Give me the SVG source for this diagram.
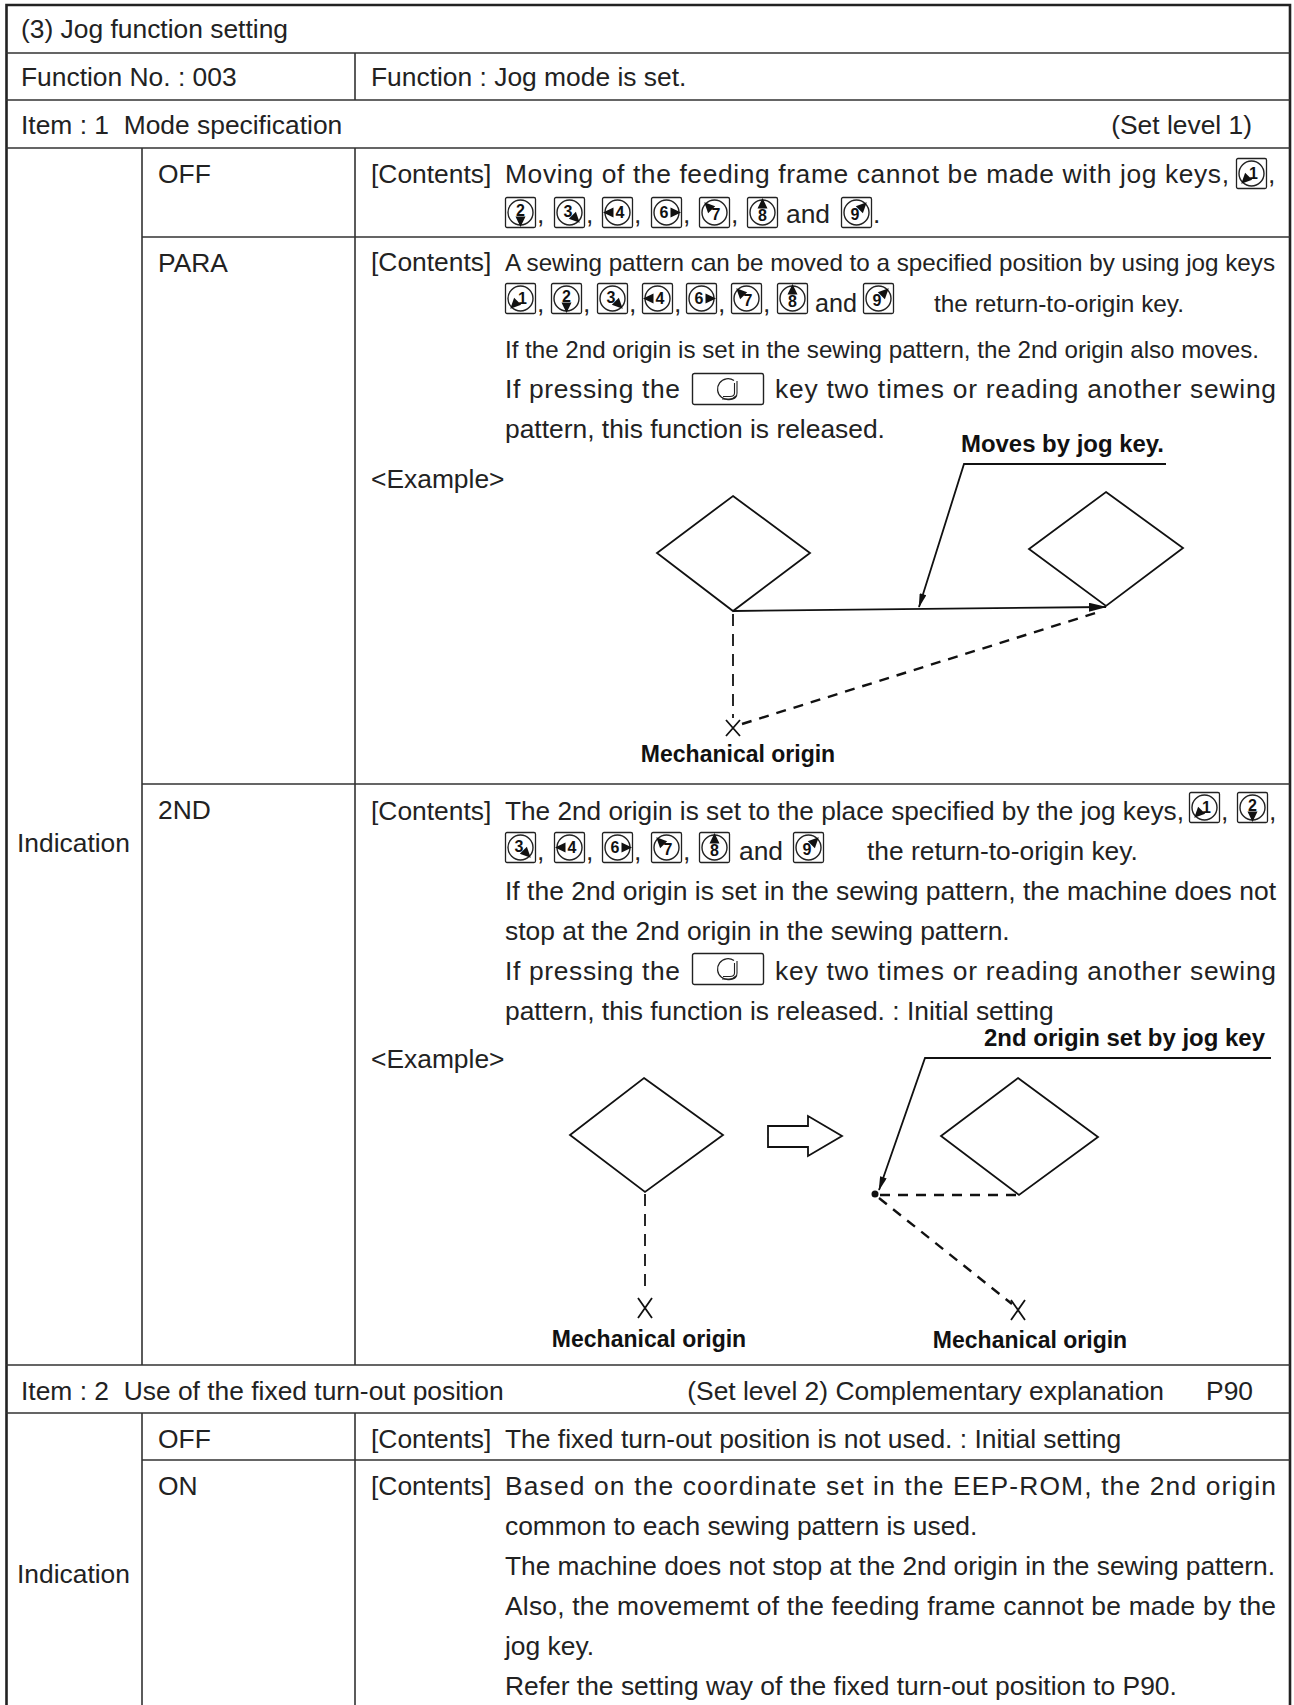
<svg xmlns="http://www.w3.org/2000/svg" xmlns:xlink="http://www.w3.org/1999/xlink" width="1294" height="1705" viewBox="0 0 1294 1705">
<style>
.t{font-family:"Liberation Sans",Arial,sans-serif;font-size:26.4px;fill:#222}
.c{font-family:"Liberation Sans",Arial,sans-serif;font-size:24px;fill:#222}
.b{font-family:"Liberation Sans",Arial,sans-serif;font-size:23px;font-weight:bold;fill:#111}
.kd{font-family:"Liberation Sans",Arial,sans-serif;font-size:16px;font-weight:bold;fill:#111;text-anchor:middle}
.ln{stroke:#333;stroke-width:1.6;fill:none}
.ob{stroke:#222;stroke-width:2.6;fill:none}
.dg{stroke:#111;stroke-width:1.8;fill:none}
.da{stroke:#111;stroke-width:1.8;fill:none;stroke-dasharray:12 8}
.dd{stroke:#111;stroke-width:2.4;fill:none;stroke-dasharray:10 8}
.kb{stroke:#222;stroke-width:1.3;fill:#fff}
</style>
<defs>
<g id="kb"><rect class="kb" x="0.5" y="0.5" width="30" height="30" rx="1.5"/><circle cx="15.5" cy="15.5" r="12.5" fill="none" stroke="#222" stroke-width="1.4"/></g>
<path id="ka" d="M19.5,10.5 L30,15.5 L19.5,20.5 Z" fill="#111"/>
<g id="rk"><rect x="0.5" y="0.5" width="71" height="31" rx="2" fill="#fff" stroke="#222" stroke-width="1.4"/><path d="M42,7.5 A10.5,10.5 0 1 0 44,23" fill="none" stroke="#222" stroke-width="1.3"/><path d="M45,8 L45,20 Q45,26 39,26 L30,26 M42.5,10 L42.5,20 Q42.5,23.5 38,23.5 L31,23.5" fill="none" stroke="#222" stroke-width="1.1"/></g>
<marker id="arr" viewBox="0 0 20 10" refX="19" refY="5" markerWidth="18" markerHeight="9" markerUnits="userSpaceOnUse" orient="auto"><path d="M0,0 L20,5 L0,10 Z" fill="#111"/></marker>
<marker id="arrs" viewBox="0 0 20 10" refX="19" refY="5" markerWidth="16" markerHeight="7" markerUnits="userSpaceOnUse" orient="auto"><path d="M0,0 L20,5 L0,10 Z" fill="#111"/></marker>
</defs>
<rect width="1294" height="1705" fill="#fff"/>

<g id="table">
<path class="ob" d="M6.5,1705 V5 H1290 V1705"/>
<path class="ln" d="M6,53 H1290 M6,100 H1290 M6,148 H1290 M6,1365 H1290 M6,1413 H1290 M142,237 H1290 M142,784 H1290 M142,1460 H1290"/>
<path class="ln" d="M355,53 V100 M142,148 V1365 M355,148 V1365 M142,1413 V1705 M355,1413 V1705"/>
</g>

<g id="header">
<text class="t" x="21" y="38">(3) Jog function setting</text>
<text class="t" x="21" y="86">Function No. : 003</text>
<text class="t" x="371" y="86">Function : Jog mode is set.</text>
<text class="t" x="21" y="134" xml:space="preserve">Item : 1  Mode specification</text>
<text class="t" x="1252" y="134" text-anchor="end">(Set level 1)</text>
<text class="t" x="17" y="852">Indication</text>
</g>

<g id="item1-off">
<text class="t" x="158" y="183">OFF</text>
<text class="t" x="371" y="183">[Contents]</text>
<text class="t" x="505" y="183" textLength="724" lengthAdjust="spacing">Moving of the feeding frame cannot be made with jog keys,</text>
<g transform="translate(1236,158)"><use href="#kb"/><use href="#ka" transform="rotate(135 15.5 15.5)"/><text class="kd" x="17.5" y="20.5">1</text></g>
<text class="t" x="1268" y="183">,</text>
<g transform="translate(505,197)"><use href="#kb"/><use href="#ka" transform="rotate(90 15.5 15.5)"/><text class="kd" x="15.5" y="18.5">2</text></g>
<text class="t" x="537" y="223">,</text>
<g transform="translate(554,197)"><use href="#kb"/><use href="#ka" transform="rotate(45 15.5 15.5)"/><text class="kd" x="14" y="19.5">3</text></g>
<text class="t" x="586" y="223">,</text>
<g transform="translate(602,197)"><use href="#kb"/><use href="#ka" transform="rotate(180 15.5 15.5)"/><text class="kd" x="18" y="21">4</text></g>
<text class="t" x="634" y="223">,</text>
<g transform="translate(651,197)"><use href="#kb"/><use href="#ka"/><text class="kd" x="13" y="21">6</text></g>
<text class="t" x="683" y="223">,</text>
<g transform="translate(699,197)"><use href="#kb"/><use href="#ka" transform="rotate(225 15.5 15.5)"/><text class="kd" x="17" y="22.5">7</text></g>
<text class="t" x="731" y="223">,</text>
<g transform="translate(747,197)"><use href="#kb"/><use href="#ka" transform="rotate(270 15.5 15.5)"/><text class="kd" x="15.5" y="24">8</text></g>
<text class="t" x="786" y="223">and</text>
<g transform="translate(841,197)"><use href="#kb"/><use href="#ka" transform="rotate(315 15.5 15.5)"/><text class="kd" x="14" y="22.5">9</text></g>
<text class="t" x="873" y="223">.</text>
</g>

<g id="item1-para">
<text class="t" x="158" y="272">PARA</text>
<text class="t" x="371" y="271">[Contents]</text>
<text class="c" x="505" y="271" textLength="770" lengthAdjust="spacingAndGlyphs">A sewing pattern can be moved to a specified position by using jog keys</text>
<g transform="translate(505,283)"><use href="#kb"/><use href="#ka" transform="rotate(135 15.5 15.5)"/><text class="kd" x="17.5" y="20.5">1</text></g>
<text class="t" x="537" y="312">,</text>
<g transform="translate(551,283)"><use href="#kb"/><use href="#ka" transform="rotate(90 15.5 15.5)"/><text class="kd" x="15.5" y="18.5">2</text></g>
<text class="t" x="583" y="312">,</text>
<g transform="translate(597,283)"><use href="#kb"/><use href="#ka" transform="rotate(45 15.5 15.5)"/><text class="kd" x="14" y="19.5">3</text></g>
<text class="t" x="629" y="312">,</text>
<g transform="translate(642,283)"><use href="#kb"/><use href="#ka" transform="rotate(180 15.5 15.5)"/><text class="kd" x="18" y="21">4</text></g>
<text class="t" x="674" y="312">,</text>
<g transform="translate(686,283)"><use href="#kb"/><use href="#ka"/><text class="kd" x="13" y="21">6</text></g>
<text class="t" x="718" y="312">,</text>
<g transform="translate(731,283)"><use href="#kb"/><use href="#ka" transform="rotate(225 15.5 15.5)"/><text class="kd" x="17" y="22.5">7</text></g>
<text class="t" x="763" y="312">,</text>
<g transform="translate(777,283)"><use href="#kb"/><use href="#ka" transform="rotate(270 15.5 15.5)"/><text class="kd" x="15.5" y="24">8</text></g>
<text class="t" x="815" y="312" textLength="42" lengthAdjust="spacingAndGlyphs">and</text>
<g transform="translate(863,283)"><use href="#kb"/><use href="#ka" transform="rotate(315 15.5 15.5)"/><text class="kd" x="14" y="22.5">9</text></g>
<text class="c" x="934" y="312" textLength="250" lengthAdjust="spacingAndGlyphs">the return-to-origin key.</text>
<text class="c" x="505" y="358" textLength="754" lengthAdjust="spacingAndGlyphs">If the 2nd origin is set in the sewing pattern, the 2nd origin also moves.</text>
<text class="t" x="505" y="398" textLength="175" lengthAdjust="spacing">If pressing the</text>
<use href="#rk" x="692" y="373"/>
<text class="t" x="775" y="398" textLength="501" lengthAdjust="spacing">key two times or reading another sewing</text>
<text class="t" x="505" y="438">pattern, this function is released.</text>
<text class="t" x="371" y="488">&lt;Example&gt;</text>
<text class="b" x="961" y="452" textLength="203" lengthAdjust="spacingAndGlyphs">Moves by jog key.</text>
<text class="b" x="738" y="762" text-anchor="middle">Mechanical origin</text>
</g>

<g id="para-diagram">
<polygon id="para-d1" class="dg" points="733,496 810,553 733,611 657,553"/>
<polygon id="para-d2" class="dg" points="1106,492 1183,548 1106,606 1029,549"/>
<path id="para-x" class="dg" d="M726,720 L740,736 M740,720 L726,736"/>
</g>

<g id="item1-2nd">
<text class="t" x="158" y="819">2ND</text>
<text class="t" x="371" y="820">[Contents]</text>
<text class="t" x="505" y="820" textLength="679" lengthAdjust="spacingAndGlyphs">The 2nd origin is set to the place specified by the jog keys,</text>
<g transform="translate(1189,792)"><use href="#kb"/><use href="#ka" transform="rotate(135 15.5 15.5)"/><text class="kd" x="17.5" y="20.5">1</text></g>
<text class="t" x="1221" y="820">,</text>
<g transform="translate(1237,792)"><use href="#kb"/><use href="#ka" transform="rotate(90 15.5 15.5)"/><text class="kd" x="15.5" y="18.5">2</text></g>
<text class="t" x="1269" y="820">,</text>
<g transform="translate(505,832)"><use href="#kb"/><use href="#ka" transform="rotate(45 15.5 15.5)"/><text class="kd" x="14" y="19.5">3</text></g>
<text class="t" x="537" y="860">,</text>
<g transform="translate(554,832)"><use href="#kb"/><use href="#ka" transform="rotate(180 15.5 15.5)"/><text class="kd" x="18" y="21">4</text></g>
<text class="t" x="586" y="860">,</text>
<g transform="translate(602,832)"><use href="#kb"/><use href="#ka"/><text class="kd" x="13" y="21">6</text></g>
<text class="t" x="634" y="860">,</text>
<g transform="translate(651,832)"><use href="#kb"/><use href="#ka" transform="rotate(225 15.5 15.5)"/><text class="kd" x="17" y="22.5">7</text></g>
<text class="t" x="683" y="860">,</text>
<g transform="translate(699,832)"><use href="#kb"/><use href="#ka" transform="rotate(270 15.5 15.5)"/><text class="kd" x="15.5" y="24">8</text></g>
<text class="t" x="739" y="860">and</text>
<g transform="translate(793,832)"><use href="#kb"/><use href="#ka" transform="rotate(315 15.5 15.5)"/><text class="kd" x="14" y="22.5">9</text></g>
<text class="t" x="867" y="860">the return-to-origin key.</text>
<text class="t" x="505" y="900" textLength="771" lengthAdjust="spacingAndGlyphs">If the 2nd origin is set in the sewing pattern, the machine does not</text>
<text class="t" x="505" y="940">stop at the 2nd origin in the sewing pattern.</text>
<text class="t" x="505" y="980" textLength="175" lengthAdjust="spacing">If pressing the</text>
<use href="#rk" x="692" y="953"/>
<text class="t" x="775" y="980" textLength="501" lengthAdjust="spacing">key two times or reading another sewing</text>
<text class="t" x="505" y="1020">pattern, this function is released. : Initial setting</text>
<text class="b" x="984" y="1046" textLength="281" lengthAdjust="spacingAndGlyphs">2nd origin set by jog key</text>
<text class="t" x="371" y="1068">&lt;Example&gt;</text>
<text class="b" x="649" y="1347" text-anchor="middle">Mechanical origin</text>
<text class="b" x="1030" y="1348" text-anchor="middle">Mechanical origin</text>
</g>

<g id="nd-diagram">
<polygon id="nd-d1" class="dg" points="644,1078 723,1135 645,1192 570,1135"/>
<polygon id="nd-hollow" class="dg" points="768,1126 808,1126 808,1116 842,1136 808,1156 808,1147 768,1147"/>
<polygon id="nd-d2" class="dg" points="1018,1078 1098,1137 1019,1195 941,1136"/>
<circle id="nd-dot" cx="875" cy="1194" r="3.5" fill="#111"/>
<path id="nd-x1" class="dg" d="M638,1298 L652,1318 M652,1298 L638,1318"/>
<path id="nd-x2" class="dg" d="M1011,1300 L1025,1320 M1025,1300 L1011,1320"/>
</g>

<g id="connectors">
<polyline class="dg" points="1166,464 964,464 919,607" marker-end="url(#arrs)"/>
<line class="dg" x1="733" y1="611" x2="1106" y2="607" marker-end="url(#arr)"/>
<line class="da" x1="733" y1="614" x2="733" y2="718"/>
<line class="dd" x1="742" y1="724" x2="1102" y2="611"/>
<polyline class="dg" points="1271,1058 925,1058 879,1190" marker-end="url(#arrs)"/>
<line class="dd" x1="880" y1="1195" x2="1019" y2="1195"/>
<line class="dd" x1="879" y1="1198" x2="1012" y2="1304"/>
<line class="da" x1="645" y1="1194" x2="645" y2="1294"/>
</g>

<g id="item2">
<text class="t" x="21" y="1400" xml:space="preserve">Item : 2  Use of the fixed turn-out position</text>
<text class="t" x="1164" y="1400" text-anchor="end">(Set level 2) Complementary explanation</text>
<text class="t" x="1253" y="1400" text-anchor="end">P90</text>
<text class="t" x="17" y="1583">Indication</text>
<text class="t" x="158" y="1448">OFF</text>
<text class="t" x="371" y="1448">[Contents]</text>
<text class="t" x="505" y="1448">The fixed turn-out position is not used. : Initial setting</text>
<text class="t" x="158" y="1495">ON</text>
<text class="t" x="371" y="1495">[Contents]</text>
<text class="t" x="505" y="1495" textLength="771" lengthAdjust="spacing">Based on the coordinate set in the EEP-ROM, the 2nd origin</text>
<text class="t" x="505" y="1535">common to each sewing pattern is used.</text>
<text class="t" x="505" y="1575" textLength="770" lengthAdjust="spacingAndGlyphs">The machine does not stop at the 2nd origin in the sewing pattern.</text>
<text class="t" x="505" y="1615" textLength="771" lengthAdjust="spacing">Also, the movememt of the feeding frame cannot be made by the</text>
<text class="t" x="505" y="1655">jog key.</text>
<text class="t" x="505" y="1695">Refer the setting way of the fixed turn-out position to P90.</text>
</g>
</svg>
